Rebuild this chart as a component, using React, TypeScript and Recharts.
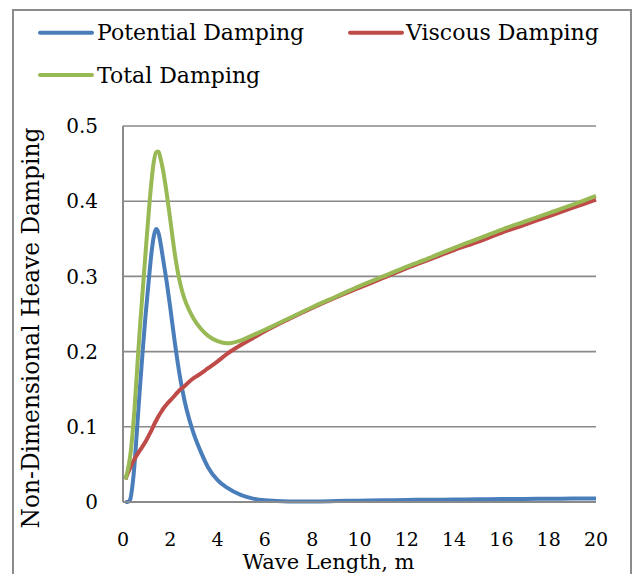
import React from 'react';
import { LineChart, Line, XAxis, YAxis, CartesianGrid } from 'recharts';

const waveLength = [0.1, 0.2, 0.3, 0.4, 0.5, 0.6, 0.7, 0.83, 0.95, 1.1, 1.2, 1.3, 1.4, 1.5, 1.6, 1.7, 1.85, 2.0, 2.2, 2.4, 2.6, 2.8, 3.0, 3.3, 3.6, 4.0, 4.4, 5.0, 5.5, 6, 7, 8, 9, 10, 11, 12, 13, 14, 15, 16, 17, 18, 19, 20];
const potentialDamping = [0, 0, 0.003, 0.022, 0.055, 0.1, 0.145, 0.2, 0.247, 0.298, 0.33, 0.353, 0.363, 0.358, 0.342, 0.322, 0.292, 0.258, 0.21, 0.168, 0.135, 0.11, 0.09, 0.066, 0.046, 0.029, 0.019, 0.009, 0.0045, 0.0022, 0.0008, 0.0008, 0.0012, 0.0018, 0.0022, 0.0027, 0.003, 0.0033, 0.0036, 0.0039, 0.0041, 0.0043, 0.0045, 0.0047];
const viscousDamping = [0.03, 0.038, 0.045, 0.052, 0.058, 0.063, 0.068, 0.074, 0.08, 0.089, 0.095, 0.102, 0.108, 0.114, 0.119, 0.124, 0.13, 0.135, 0.142, 0.149, 0.154, 0.16, 0.165, 0.171, 0.178, 0.187, 0.197, 0.209, 0.218, 0.227, 0.243, 0.258, 0.272, 0.285, 0.298, 0.311, 0.323, 0.335, 0.346, 0.358, 0.369, 0.38, 0.391, 0.402];
const totalDamping = [0.03, 0.042, 0.06, 0.09, 0.13, 0.178, 0.225, 0.28, 0.33, 0.39, 0.425, 0.452, 0.465, 0.466, 0.455, 0.44, 0.41, 0.375, 0.328, 0.293, 0.27, 0.255, 0.243, 0.23, 0.221, 0.214, 0.211, 0.215, 0.222, 0.229, 0.244, 0.259, 0.273, 0.287, 0.3, 0.313, 0.325, 0.338, 0.35, 0.362, 0.373, 0.384, 0.395, 0.407];

const xTicks = [0, 2, 4, 6, 8, 10, 12, 14, 16, 18, 20];
const yTicks = [0, 0.1, 0.2, 0.3, 0.4, 0.5];
const yTickLabels = ['0', '0.1', '0.2', '0.3', '0.4', '0.5'];

const series = [
  { key: 'potential', name: 'Potential Damping', color: '#4A7EBB' },
  { key: 'viscous', name: 'Viscous Damping', color: '#BE4B48' },
  { key: 'total', name: 'Total Damping', color: '#98B954' },
];

const data = waveLength.map((x, i) => ({
  x,
  potential: potentialDamping[i],
  viscous: viscousDamping[i],
  total: totalDamping[i],
}));

const FONT = "'DejaVu Serif', serif";
const GRID = '#8a8a8a';

const legendPos = [
  { lx: 40, ly: 32.7, tx: 97, ty: 40 },
  { lx: 350, ly: 32.7, tx: 406, ty: 40 },
  { lx: 40, ly: 75, tx: 97, ty: 82.5 },
];

export default function App() {
  return (
    <div style={{ position: 'absolute', left: 0, top: 0, width: 633, height: 574, overflow: 'hidden', background: '#fff' }}>
      <div
        style={{
          position: 'absolute',
          left: 12,
          top: 9,
          width: 620,
          height: 600,
          boxSizing: 'border-box',
          border: '2px solid #8c8c8c',
        }}
      />
      <div style={{ position: 'absolute', left: 0, top: 0 }}>
        <LineChart width={633} height={574} data={data} margin={{ top: 126, right: 37, bottom: 0, left: 0 }}>
          <CartesianGrid horizontal={true} vertical={false} stroke={GRID} strokeWidth={1.6} />
          <XAxis
            dataKey="x"
            type="number"
            domain={[0, 20]}
            ticks={xTicks}
            height={72}
            tickLine={false}
            tickSize={0}
            tickMargin={31}
            axisLine={{ stroke: GRID, strokeWidth: 2 }}
            tick={{ fontSize: 19, fill: '#000', fontFamily: FONT }}
            label={{
              value: 'Wave Length, m',
              content: (props: any) => {
                const vb = props.viewBox;
                return (
                  <text x={vb.x + vb.width / 2 - 31} y={569} textAnchor="middle" fontSize={21} fontFamily={FONT} fill="#000">
                    Wave Length, m
                  </text>
                );
              },
            }}
          />
          <YAxis
            type="number"
            domain={[0, 0.5]}
            ticks={yTicks}
            width={123}
            tickLine={false}
            tickSize={0}
            tickMargin={25}
            interval={0}
            tickFormatter={(v: number) => yTickLabels[yTicks.indexOf(v)] ?? String(v)}
            axisLine={{ stroke: GRID, strokeWidth: 2 }}
            tick={{ fontSize: 20, fill: '#000', fontFamily: FONT }}
            label={{
              value: 'Non-Dimensional Heave Damping',
              content: (props: any) => {
                const vb = props.viewBox;
                const cy = vb.y + vb.height / 2 + 14;
                return (
                  <text x={39} y={cy} transform={`rotate(-90, 39, ${cy})`} textAnchor="middle" fontSize={23.3} fontFamily={FONT} fill="#000">
                    Non-Dimensional Heave Damping
                  </text>
                );
              },
            }}
          />
          {series.map((s) => (
            <Line
              key={s.key}
              dataKey={s.key}
              name={s.name}
              type="monotone"
              stroke={s.color}
              strokeWidth={4}
              dot={false}
              activeDot={false}
              isAnimationActive={false}
            />
          ))}
        </LineChart>
      </div>
      <svg width={633} height={120} style={{ position: 'absolute', left: 0, top: 0 }}>
        {series.map((s, i) => {
          const p = legendPos[i];
          return (
            <g key={s.key}>
              <line x1={p.lx} x2={p.lx + 52} y1={p.ly} y2={p.ly} stroke={s.color} strokeWidth={4} strokeLinecap="round" />
              <text x={p.tx} y={p.ty} fontSize={22} fontFamily={FONT} fill="#000">
                {s.name}
              </text>
            </g>
          );
        })}
      </svg>
    </div>
  );
}
